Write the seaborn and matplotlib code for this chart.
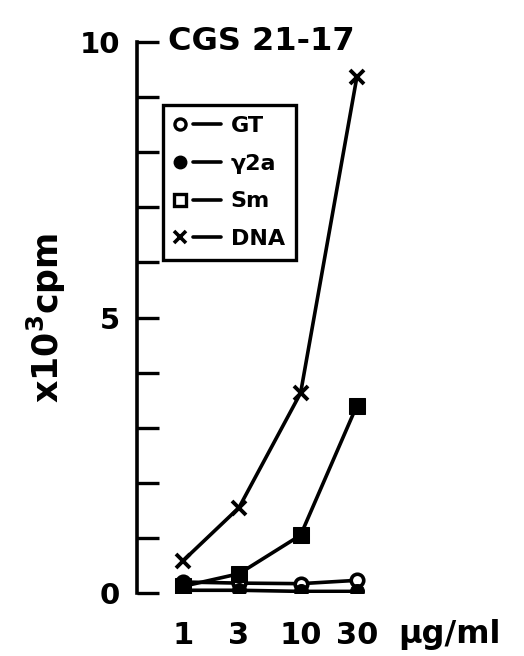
import numpy as np
import pandas as pd
import seaborn as sns
import matplotlib.pyplot as plt
from matplotlib.lines import Line2D
from matplotlib.legend_handler import HandlerLine2DCompound
from matplotlib.ticker import FixedLocator, NullFormatter

# dose (ug/ml) and cpm (x10^3)
doses = [1, 3, 10, 30]
gt = [0.20, 0.18, 0.17, 0.23]
g2a = [0.05, 0.05, 0.03, 0.03]
sm = [0.12, 0.35, 1.05, 3.40]
dna = [0.58, 1.55, 3.63, 9.36]
xtick_labels = ["1", "3", "10", "30"]


class MarkerLeftHandler(HandlerLine2DCompound):
    # legend handle drawn as "o---" rather than "--o--"
    def get_xdata(self, legend, xdescent, ydescent, width, height, fontsize):
        xdata = np.array([-xdescent + 0.40 * width, -xdescent + width])
        xmark = np.array([-xdescent + 0.12 * width])
        return xdata, xmark


sns.set_style("white")
plt.rcParams['font.family'] = ['DejaVu Sans']
plt.rcParams['font.weight'] = 'bold'
plt.rcParams['axes.labelweight'] = 'bold'
plt.rcParams['text.color'] = 'black'
plt.rcParams['axes.labelcolor'] = 'black'
plt.rcParams['xtick.color'] = 'black'
plt.rcParams['ytick.color'] = 'black'

fig = plt.figure(figsize=(5.24, 6.56), dpi=100)
ax = fig.add_axes([0.261, 0.096, 0.502, 0.840])

lw = 2.6
series = [
    ("GT", gt, dict(marker='o', markersize=9, markerfacecolor='white',
                    markeredgewidth=2.6)),
    ("\u03b32a", g2a, dict(marker='o', markersize=10,
                           markerfacecolor='black')),
    ("Sm", sm, dict(marker='s', markersize=11, markerfacecolor='black')),
    ("DNA", dna, dict(marker='x', markersize=10, markeredgewidth=2.8)),
]

for name, vals, style in series:
    df = pd.DataFrame({'dose': doses, 'cpm': vals})
    sns.lineplot(data=df, x='dose', y='cpm', ax=ax, color='black',
                 linewidth=lw, markeredgecolor='black', **style)

ax.set_xscale('log')
ax.set_xlim(0.407, 69.5)
ax.set_ylim(0, 10)
ax.xaxis.set_major_locator(FixedLocator(doses))
ax.xaxis.set_minor_locator(FixedLocator([]))
ax.set_xticklabels(xtick_labels)
ax.xaxis.set_minor_formatter(NullFormatter())
ax.set_yticks([0, 5, 10])
ax.set_yticklabels(["0", "5", "10"])
ax.yaxis.set_minor_locator(FixedLocator(range(0, 11)))

ax.tick_params(axis='y', which='both', left=True, direction='in', length=16,
               width=2.4, labelsize=21, pad=12, color='black')
ax.tick_params(axis='x', which='both', bottom=False, length=0, labelsize=22,
               pad=20)

for s in ['top', 'right', 'bottom']:
    ax.spines[s].set_visible(False)
ax.spines['left'].set_linewidth(2.6)
ax.spines['left'].set_color('black')

ax.set_xlabel("")
ax.set_ylabel("x10$^3$cpm", fontsize=25, labelpad=8)
ax.text(0.995, -0.075, "\u03bcg/ml", transform=ax.transAxes, fontsize=23,
        ha='left', va='center')
ax.text(0.12, 1.0, "CGS 21-17", transform=ax.transAxes, fontsize=23,
        ha='left', va='center')

# legend key as printed (open square for Sm)
legend_styles = [
    dict(marker='o', markersize=8, markerfacecolor='white', markeredgewidth=2.4),
    dict(marker='o', markersize=9, markerfacecolor='black'),
    dict(marker='s', markersize=8, markerfacecolor='white', markeredgewidth=2.4),
    dict(marker='x', markersize=9, markeredgewidth=2.6),
]
handles = [Line2D([], [], color='black', linewidth=lw,
                  markeredgecolor='black', **st) for st in legend_styles]
labels = [s[0] for s in series]
leg = ax.legend(handles, labels, loc='upper left',
                bbox_to_anchor=(0.099, 0.886), fontsize=16, frameon=True,
                fancybox=False, framealpha=1.0, handlelength=2.1,
                handletextpad=0.45, borderpad=0.5, labelspacing=0.8,
                borderaxespad=0,
                handler_map={h: MarkerLeftHandler(numpoints=1)
                             for h in handles})
leg.get_frame().set_edgecolor('black')
leg.get_frame().set_linewidth(2.4)

fig.savefig("out.png", dpi=100)
